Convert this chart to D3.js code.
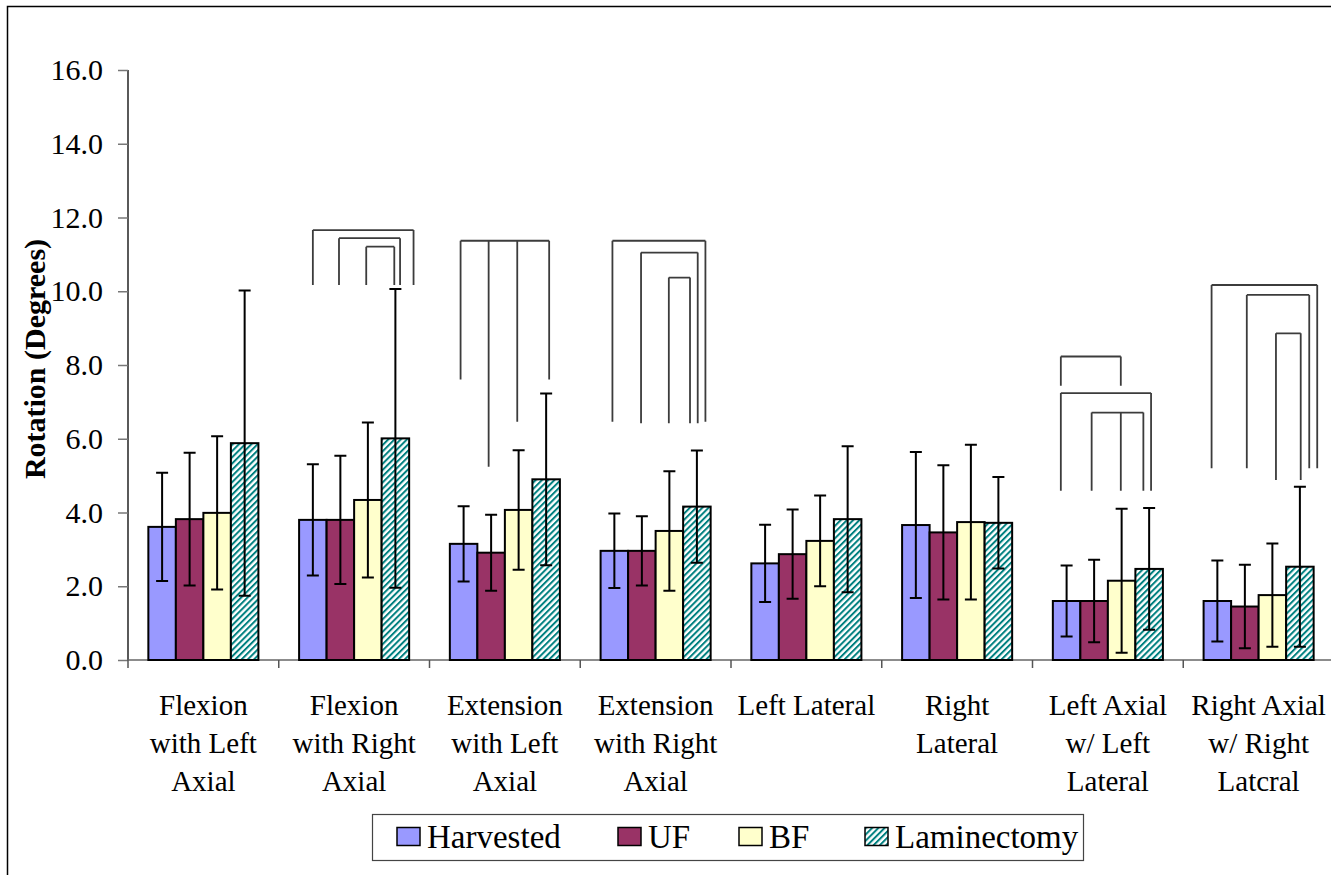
<!DOCTYPE html>
<html>
<head>
<meta charset="utf-8">
<script src="https://cdn.jsdelivr.net/npm/d3@7/dist/d3.min.js"></script>
<style>
  html, body { margin: 0; padding: 0; background: #fff; }
  svg { display: block; }
</style>
</head>
<body>
<svg id="chart" width="1331" height="875"></svg>
<script>
// Motion categories (line breaks as printed under each group)
const categories = [
  "Flexion\nwith Left\nAxial",
  "Flexion\nwith Right\nAxial",
  "Extension\nwith Left\nAxial",
  "Extension\nwith Right\nAxial",
  "Left Lateral",
  "Right\nLateral",
  "Left Axial\nw/ Left\nLateral",
  "Right Axial\nw/ Right\nLatcral"
];
const series = ["Harvested", "UF", "BF", "Laminectomy"];

// Mean rotation (degrees) per category
const harvestedMean   = [3.61, 3.80, 3.15, 2.96, 2.62, 3.66, 1.60, 1.60];
const ufMean          = [3.82, 3.80, 2.91, 2.96, 2.87, 3.46, 1.60, 1.45];
const bfMean          = [3.99, 4.34, 4.07, 3.50, 3.23, 3.74, 2.15, 1.76];
const laminectomyMean = [5.88, 6.01, 4.90, 4.16, 3.82, 3.72, 2.47, 2.53];

// Standard deviations
const harvestedSD   = [1.47, 1.51, 1.02, 1.01, 1.05, 1.98, 0.96, 1.10];
const ufSD          = [1.80, 1.74, 1.03, 0.94, 1.21, 1.82, 1.12, 1.13];
const bfSD          = [2.08, 2.10, 1.62, 1.62, 1.23, 2.10, 1.95, 1.40];
const laminectomySD = [4.14, 4.05, 2.33, 1.52, 1.98, 1.24, 1.65, 2.17];

const yTicks = [0, 2, 4, 6, 8, 10, 12, 14, 16];

// Significance brackets: category index, height of the bar line, and legs
// given as [series position (0 = Harvested ... 3 = Laminectomy), lower end value]
const brackets = [
  { cat: 1, top: 11.66, legs: [[0.00, 10.17], [3.66, 10.17]] },
  { cat: 1, top: 11.44, legs: [[0.95, 10.17], [3.17, 10.17]] },
  { cat: 1, top: 11.21, legs: [[1.94, 10.17], [2.96, 10.17]] },
  { cat: 2, top: 11.37, legs: [[-0.11, 7.61], [0.91, 5.24], [1.95, 6.46], [3.11, 7.61]] },
  { cat: 3, top: 11.37, legs: [[-0.07, 6.46], [3.31, 6.46]] },
  { cat: 3, top: 11.05, legs: [[0.97, 6.42], [3.03, 6.42]] },
  { cat: 3, top: 10.37, legs: [[1.98, 6.42], [2.75, 6.42]] },
  { cat: 6, top: 8.23, legs: [[-0.21, 7.44], [1.97, 7.44]] },
  { cat: 6, top: 7.24, legs: [[-0.21, 4.59], [3.07, 4.59]] },
  { cat: 6, top: 6.71, legs: [[0.91, 4.59], [1.97, 4.59], [2.79, 4.59]] },
  { cat: 7, top: 10.17, legs: [[-0.21, 5.20], [3.63, 5.20]] },
  { cat: 7, top: 9.90, legs: [[1.07, 5.20], [3.34, 5.20]] },
  { cat: 7, top: 8.86, legs: [[2.13, 4.88], [3.03, 4.88]] }
];

const means = [harvestedMean, ufMean, bfMean, laminectomyMean];
const sds = [harvestedSD, ufSD, bfSD, laminectomySD];
const fills = ["#9999ff", "#993366", "#ffffcc", "url(#hatch)"];

const SERIF = "'Liberation Serif', 'Times New Roman', Tinos, serif";

const svg = d3.select("#chart");

// Outer chart border
svg.append("rect")
  .attr("x", 7.5).attr("y", 6.5)
  .attr("width", 1400).attr("height", 900)
  .attr("fill", "none").attr("stroke", "#000").attr("stroke-width", 1.5);

// Diagonal hatch for Laminectomy
const defs = svg.append("defs");
const pat = defs.append("pattern")
  .attr("id", "hatch")
  .attr("patternUnits", "userSpaceOnUse")
  .attr("width", 4.4).attr("height", 4.4)
  .attr("patternTransform", "rotate(45)");
pat.append("rect").attr("width", 4.4).attr("height", 4.4).attr("fill", "#fff");
pat.append("rect").attr("x", 0).attr("y", 0).attr("width", 2.0).attr("height", 4.4).attr("fill", "#008080");

const plot = { left: 128, right: 1334, top: 70, bottom: 660 };

const x0 = d3.scaleBand()
  .domain(d3.range(categories.length))
  .range([plot.left, plot.right])
  .paddingInner(0).paddingOuter(0);

const bw = x0.bandwidth();
const x1 = d3.scaleBand()
  .domain(d3.range(series.length))
  .range([bw * 0.135, bw * 0.865])
  .padding(0);

// continuous position within a group, in series units (0 = first bar centre)
const xs = d3.scaleLinear()
  .domain([0, 1])
  .range([x1(0) + x1.bandwidth() / 2, x1(1) + x1.bandwidth() / 2]);

const y = d3.scaleLinear().domain([0, 16]).range([plot.bottom, plot.top]);

// Y axis
const yAxis = d3.axisLeft(y)
  .tickValues(yTicks)
  .tickFormat(d3.format(".1f"))
  .tickSize(10)
  .tickPadding(15);
const gy = svg.append("g")
  .attr("transform", `translate(${plot.left},0)`)
  .call(yAxis);
gy.select(".domain").attr("stroke", "#000").attr("stroke-width", 1.3)
  .attr("d", `M0,${plot.top}V${plot.bottom}`);
gy.selectAll(".tick line").attr("stroke", "#777").attr("stroke-width", 1.5);
gy.selectAll(".tick text")
  .style("font-family", SERIF)
  .style("font-size", "30px")
  .attr("fill", "#000");

// X axis baseline and category separators
const xTickVals = d3.range(categories.length + 1).map(i => plot.left + i * bw);
svg.append("line")
  .attr("x1", plot.left).attr("x2", 1331)
  .attr("y1", y(0)).attr("y2", y(0))
  .attr("stroke", "#666").attr("stroke-width", 1.5);
svg.selectAll(".xtick").data(xTickVals).enter().append("line")
  .attr("class", "xtick")
  .attr("x1", d => d).attr("x2", d => d)
  .attr("y1", y(0)).attr("y2", y(0) + 8)
  .attr("stroke", "#555").attr("stroke-width", 1.5);

// Bars
const groups = svg.selectAll(".grp")
  .data(categories.map((c, i) => i))
  .enter().append("g")
  .attr("class", "grp")
  .attr("transform", i => `translate(${x0(i)},0)`);

groups.each(function (ci) {
  const g = d3.select(this);
  series.forEach((s, si) => {
    const v = means[si][ci];
    g.append("rect")
      .attr("x", x1(si))
      .attr("y", y(v))
      .attr("width", x1.bandwidth())
      .attr("height", y(0) - y(v))
      .attr("fill", fills[si])
      .attr("stroke", "#000")
      .attr("stroke-width", 2);
  });
  // error bars
  series.forEach((s, si) => {
    const v = means[si][ci], sd = sds[si][ci];
    const cx = x1(si) + x1.bandwidth() / 2;
    const hi = y(v + sd), lo = y(Math.max(v - sd, 0));
    g.append("path")
      .attr("d", `M${cx},${hi}V${lo}M${cx - 6},${hi}H${cx + 6}M${cx - 6},${lo}H${cx + 6}`)
      .attr("fill", "none")
      .attr("stroke", "#000")
      .attr("stroke-width", 2);
  });
});

// Significance brackets
brackets.forEach(b => {
  const gx = x0(b.cat);
  const xsLeg = b.legs.map(l => gx + xs(l[0]));
  let d = `M${d3.min(xsLeg)},${y(b.top)}H${d3.max(xsLeg)}`;
  b.legs.forEach((l, k) => {
    d += `M${xsLeg[k]},${y(b.top)}V${y(l[1])}`;
  });
  svg.append("path")
    .attr("d", d)
    .attr("fill", "none")
    .attr("stroke", "#3c3c3c")
    .attr("stroke-width", 1.8);
});

// Category labels
categories.forEach((c, i) => {
  const t = svg.append("text")
    .attr("x", x0(i) + bw / 2)
    .attr("y", 715)
    .attr("text-anchor", "middle")
    .style("font-family", SERIF)
    .style("font-size", "29px")
    .attr("fill", "#000");
  c.split("\n").forEach((line, k) => {
    t.append("tspan")
      .attr("x", x0(i) + bw / 2)
      .attr("dy", k === 0 ? 0 : 38)
      .text(line);
  });
});

// Y axis title
svg.append("text")
  .attr("transform", "translate(45,359) rotate(-90)")
  .attr("text-anchor", "middle")
  .style("font-family", SERIF)
  .style("font-size", "30px")
  .style("font-weight", "bold")
  .attr("fill", "#000")
  .text("Rotation (Degrees)");

// Legend
const legendBox = { x: 372, y: 814, w: 711, h: 46 };
svg.append("rect")
  .attr("x", legendBox.x + 0.5).attr("y", legendBox.y + 0.5)
  .attr("width", legendBox.w).attr("height", legendBox.h)
  .attr("fill", "#fff").attr("stroke", "#444").attr("stroke-width", 1.2);

const legendX = [397, 618, 739, 865];
series.forEach((s, si) => {
  svg.append("rect")
    .attr("x", legendX[si]).attr("y", 827.5)
    .attr("width", 23).attr("height", 18)
    .attr("fill", fills[si])
    .attr("stroke", "#000").attr("stroke-width", 1.5);
  svg.append("text")
    .attr("x", legendX[si] + 30)
    .attr("y", 848)
    .style("font-family", SERIF)
    .style("font-size", "33px")
    .attr("fill", "#000")
    .text(s);
});
</script>
</body>
</html>
